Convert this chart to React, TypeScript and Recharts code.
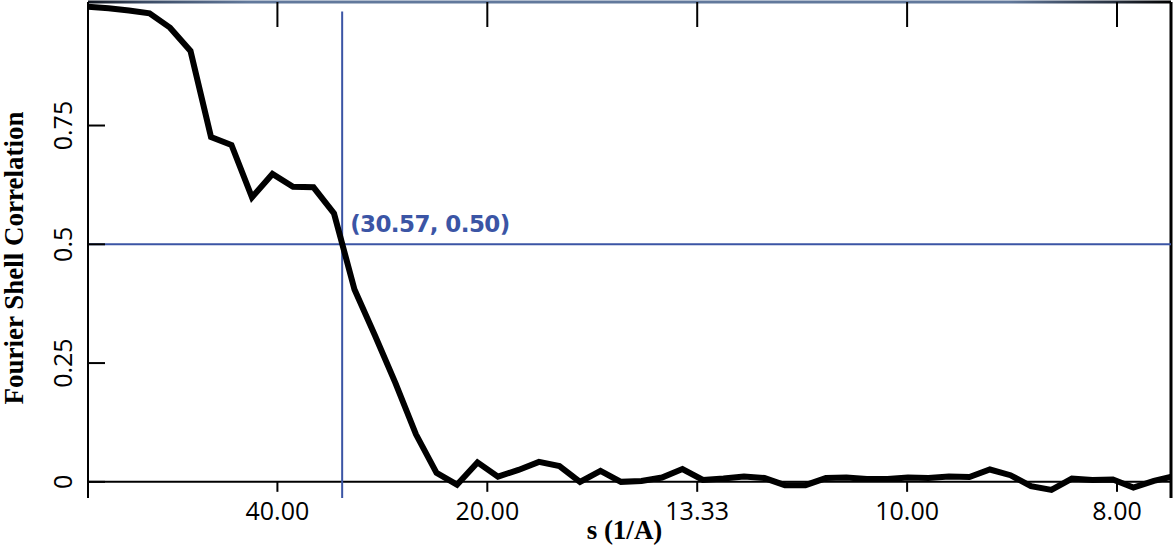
import {
  LineChart,
  Line,
  XAxis,
  YAxis,
  ReferenceLine,
  ReferenceDot,
  Label
} from 'recharts'

// spatial frequency of each shell (1/A)
const shellFreq = [
  0.00244, 0.00488, 0.00732, 0.00977, 0.01221, 0.01465, 0.01709, 0.01953, 0.02197,
  0.02441, 0.02686, 0.0293, 0.03174, 0.03418, 0.03662, 0.03906, 0.0415, 0.04395,
  0.04639, 0.04883, 0.05127, 0.05371, 0.05615, 0.05859, 0.06104, 0.06348, 0.06592,
  0.06836, 0.0708, 0.07324, 0.07568, 0.07813, 0.08057, 0.08301, 0.08545, 0.08789,
  0.09033, 0.09277, 0.09521, 0.09766, 0.1001, 0.10254, 0.10498, 0.10742, 0.10986,
  0.1123, 0.11475, 0.11719, 0.11963, 0.12207, 0.12451, 0.12695, 0.12939, 0.13184
]

// FSC of each shell
const fscValues = [
  1.0, 0.997, 0.992, 0.986, 0.956, 0.907, 0.726, 0.709, 0.599,
  0.648, 0.621, 0.62, 0.565, 0.405, 0.308, 0.208, 0.1, 0.019,
  -0.006, 0.041, 0.011, 0.025, 0.042, 0.033, 0.0, 0.023, 0.0,
  0.002, 0.009, 0.027, 0.004, 0.007, 0.011, 0.008, -0.007, -0.007,
  0.008, 0.009, 0.006, 0.006, 0.009, 0.008, 0.011, 0.01, 0.026,
  0.014, -0.009, -0.017, 0.007, 0.004, 0.005, -0.012, 0.002, 0.012
]

const xTicks = [0.025, 0.05, 0.075, 0.1, 0.125]
const yTicks = [0, 0.25, 0.5, 0.75]

// where the curve crosses FSC = 0.5
const crossRes = 30.57
const crossFsc = 0.5

const xDomain = [0.00244, 0.13143]
const yDomain = [-0.034, 1.01]

const BLUE = '#3b55a5'
const TICK_FONT = '"Open Sans", sans-serif'
const TITLE_FONT = '"Liberation Serif", "Times New Roman", serif'

const chartData = shellFreq.map((s, i) => ({ s, fsc: fscValues[i] }))

function XTick({ x, y, payload }: any) {
  return (
    <text x={x} y={y + 22} textAnchor="middle" fontFamily={TICK_FONT} fontSize={25} fill="#000">
      {(1 / payload.value).toFixed(2)}
    </text>
  )
}

// inward tick hanging from the top frame edge
function TopTick({ x, y }: any) {
  return <line x1={x} y1={y} x2={x} y2={y + 25} stroke="#000" strokeWidth={2} />
}

function YTick({ x, y, payload }: any) {
  const label = payload.value === 0 ? '0' : String(payload.value)
  const lx = x - 16
  return (
    <g>
      <line x1={x} y1={y} x2={x + 17} y2={y} stroke="#000" strokeWidth={2} />
      <text
        x={lx}
        y={y}
        textAnchor="middle"
        transform={`rotate(-90, ${lx}, ${y})`}
        fontFamily={TICK_FONT}
        fontSize={25}
        fill="#000"
      >
        {label}
      </text>
    </g>
  )
}

export default function App() {
  return (
    <div style={{ position: 'absolute', left: 0, top: 0, background: '#fff' }}>
      <LineChart
        width={1174}
        height={558}
        data={chartData}
        margin={{ top: 2, right: 3, bottom: 0, left: 0 }}
      >
        <defs>
          <linearGradient id="topEdge" gradientUnits="userSpaceOnUse" x1="88" y1="0" x2="1171" y2="0">
            <stop offset="0" stopColor="#10151f" />
            <stop offset="0.05" stopColor="#3a4a63" />
            <stop offset="0.15" stopColor="#62799c" />
            <stop offset="0.85" stopColor="#62799c" />
            <stop offset="0.95" stopColor="#252e3c" />
            <stop offset="1" stopColor="#000" />
          </linearGradient>
        </defs>

        <XAxis
          dataKey="s"
          type="number"
          domain={xDomain}
          allowDataOverflow
          ticks={xTicks}
          interval={0}
          height={60}
          axisLine={false}
          tickLine={false}
          tickSize={0}
          tickMargin={0}
          tick={<XTick />}
        >
          <Label
            content={({ viewBox }: any) => (
              <text
                x={viewBox.x + viewBox.width / 2 - 5}
                y={viewBox.y + 41}
                textAnchor="middle"
                fontFamily={TITLE_FONT}
                fontWeight="bold"
                fontSize={27}
                fill="#000"
              >
                s (1/A)
              </text>
            )}
          />
        </XAxis>
        {/* top frame edge */}
        <XAxis
          xAxisId="top"
          orientation="top"
          mirror
          dataKey="s"
          type="number"
          domain={xDomain}
          allowDataOverflow
          ticks={xTicks}
          interval={0}
          height={30}
          axisLine={{ stroke: 'url(#topEdge)', strokeWidth: 3 }}
          tickLine={false}
          tickSize={0}
          tickMargin={0}
          tick={<TopTick />}
        />
        <YAxis
          type="number"
          domain={yDomain}
          ticks={yTicks}
          interval={0}
          width={88}
          axisLine={{ stroke: '#000', strokeWidth: 2 }}
          tickLine={false}
          tickSize={0}
          tickMargin={0}
          tick={<YTick />}
        >
          <Label
            content={({ viewBox }: any) => {
              const cx = viewBox.x + 23
              const cy = viewBox.y + viewBox.height / 2 + 8
              return (
                <text
                  x={cx}
                  y={cy}
                  textAnchor="middle"
                  transform={`rotate(-90, ${cx}, ${cy})`}
                  fontFamily={TITLE_FONT}
                  fontWeight="bold"
                  fontSize={27}
                  fill="#000"
                >
                  Fourier Shell Correlation
                </text>
              )
            }}
          />
        </YAxis>

        {/* zero line acts as the x axis, with its ticks hanging below */}
        <ReferenceLine y={0} stroke="#000" strokeWidth={2} />
        {xTicks.map((t) => (
          <ReferenceLine
            key={t}
            segment={[{ x: t, y: 0 }, { x: t, y: -0.021 }]}
            stroke="#000"
            strokeWidth={2}
            ifOverflow="visible"
          />
        ))}
        <ReferenceLine x={xDomain[1]} stroke="#000" strokeWidth={3} />

        <ReferenceLine y={crossFsc} stroke={BLUE} strokeWidth={2} />
        <ReferenceLine
          segment={[{ x: 1 / crossRes, y: 0.99 }, { x: 1 / crossRes, y: yDomain[0] }]}
          stroke={BLUE}
          strokeWidth={2}
          ifOverflow="visible"
        />

        <Line
          type="linear"
          dataKey="fsc"
          stroke="#000"
          strokeWidth={6}
          dot={false}
          activeDot={false}
          isAnimationActive={false}
        />

        <ReferenceDot x={1 / crossRes} y={crossFsc} r={0} fill="none" stroke="none">
          <Label
            content={({ viewBox }: any) => (
              <text
                x={viewBox.x + 8}
                y={viewBox.y - 12}
                fontFamily='"DejaVu Sans", Verdana, sans-serif'
                fontWeight="bold"
                fontSize={23}
                letterSpacing={-0.6}
                fill={BLUE}
              >
                {`(${crossRes.toFixed(2)}, ${crossFsc.toFixed(2)})`}
              </text>
            )}
          />
        </ReferenceDot>
      </LineChart>
    </div>
  )
}
